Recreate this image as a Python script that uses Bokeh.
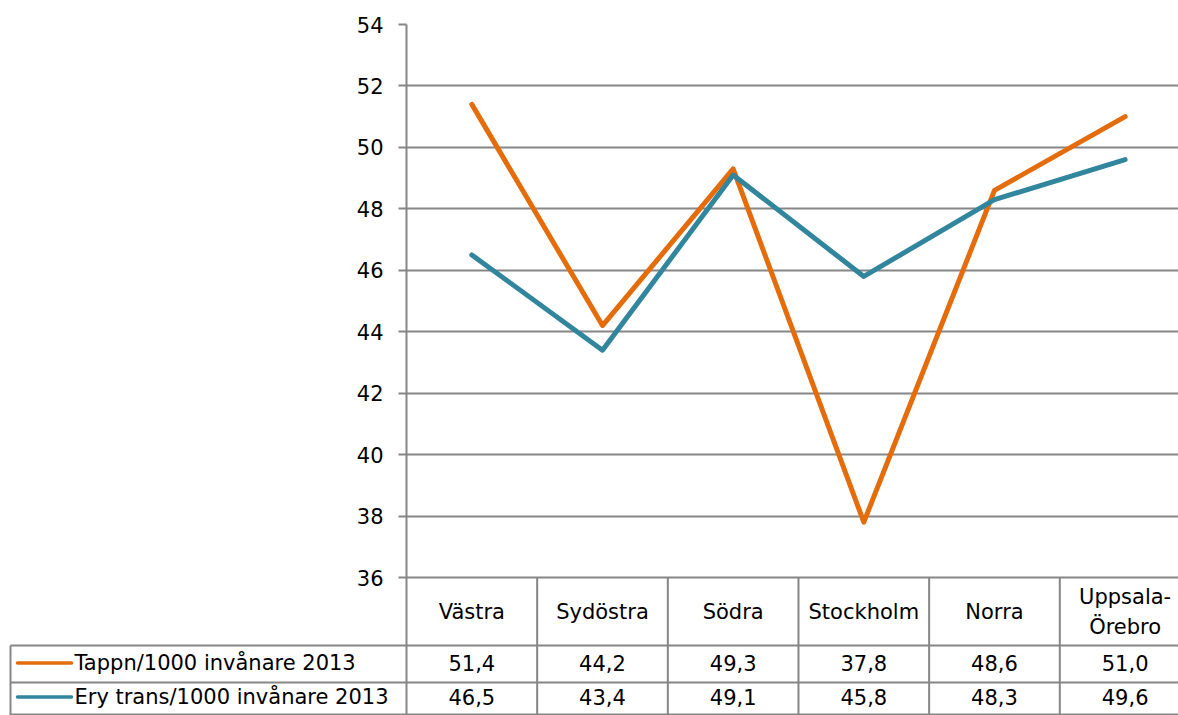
from bokeh.plotting import figure
from bokeh.models import Range1d, FixedTicker
from bokeh.core.properties import value
from bokeh.embed import file_html
from bokeh.resources import INLINE

# Regions and the two series (per 1000 inhabitants, 2013)
regions = ["Västra", "Sydöstra", "Södra", "Stockholm", "Norra", "Uppsala-Örebro"]
tappn = [51.4, 44.2, 49.3, 37.8, 48.6, 51.0]
ery = [46.5, 43.4, 49.1, 45.8, 48.3, 49.6]
series_names = ["Tappn/1000 invånare 2013", "Ery trans/1000 invånare 2013"]
y_ticks = [36, 38, 40, 42, 44, 46, 48, 50, 52, 54]

ORANGE = "#E46C0A"
TEAL = "#31859C"
GRID = "#868686"
FONT = "DejaVu Sans"
FS = "21px"

W, H = 1178, 715
LEFT, TOP, BOTTOM = 406, 24, 138
COL_W = 130.66  # pixel width of one category column

frame_w = W - LEFT
x_end = frame_w / COL_W

p = figure(width=W, height=H, output_backend="svg", toolbar_location=None,
           x_range=Range1d(0, x_end), y_range=Range1d(y_ticks[0], y_ticks[-1]),
           min_border_left=LEFT, min_border_top=TOP, min_border_bottom=BOTTOM,
           min_border_right=0)
p.outline_line_color = None
p.background_fill_color = "white"
p.border_fill_color = "white"

# table area below the plot, measured in pixels below the frame bottom
frame_h = H - TOP - BOTTOM
p.extra_y_ranges = {"tbl": Range1d(0, frame_h)}

p.xaxis.visible = False
p.xgrid.visible = False
p.ygrid.ticker = FixedTicker(ticks=y_ticks)
p.ygrid.grid_line_color = GRID
p.ygrid.grid_line_width = 2

ax = p.yaxis[0]
ax.ticker = FixedTicker(ticks=y_ticks)
ax.axis_line_color = GRID
ax.axis_line_width = 2
ax.major_tick_line_color = GRID
ax.major_tick_line_width = 2
ax.major_tick_out = 8
ax.major_tick_in = 0
ax.minor_tick_out = 0
ax.minor_tick_in = 0
ax.major_label_text_font = FONT
ax.major_label_text_font_size = FS
ax.major_label_text_color = "black"
ax.major_label_standoff = 15

xs = [i + 0.5 for i in range(len(regions))]

# series lines
p.line(xs, tappn, line_color=ORANGE, line_width=5, line_join="round", line_cap="round")
p.line(xs, ery, line_color=TEAL, line_width=5, line_join="round", line_cap="round")

# data table grid
HEAD_H, ROW_H = 68, 37
y_head = -HEAD_H
y_r1 = -HEAD_H - ROW_H
y_r2 = -BOTTOM
leg_left = (10 - LEFT) / COL_W

hx0 = [0, leg_left, leg_left, leg_left]
hx1 = [x_end, x_end, x_end, x_end]
hy = [0, y_head, y_r1, y_r2 + 1]
p.segment(x0=hx0, y0=hy, x1=hx1, y1=hy, y_range_name="tbl",
          line_color=GRID, line_width=2, level="overlay")

vx = list(range(len(regions))) + [leg_left]
vy0 = [0] * len(regions) + [y_head]
vy1 = [y_r2] * (len(regions) + 1)
p.segment(x0=vx, y0=vy0, x1=vx, y1=vy1, y_range_name="tbl",
          line_color=GRID, line_width=2, level="overlay")

# header row: category names
labels = [r.replace("-", "-\n") for r in regions]
p.text(x=xs, y=[y_head / 2] * len(regions), text=labels, y_range_name="tbl",
       text_align="center", text_baseline="middle", text_font=value(FONT),
       text_font_size=FS, text_color="black", text_line_height=1.25, level="overlay")

# value rows
r1c = (y_head + y_r1) / 2 + 1
r2c = (y_r1 + y_r2) / 2 + 2
fmt = lambda v: f"{v:.1f}".replace(".", ",")
p.text(x=xs, y=[r1c] * len(xs), text=[fmt(v) for v in tappn], y_range_name="tbl",
       text_align="center", text_baseline="middle", text_font=value(FONT),
       text_font_size=FS, text_color="black", level="overlay")
p.text(x=xs, y=[r2c] * len(xs), text=[fmt(v) for v in ery], y_range_name="tbl",
       text_align="center", text_baseline="middle", text_font=value(FONT),
       text_font_size=FS, text_color="black", level="overlay")

# legend keys and series names in the first column
key_x0 = (17 - LEFT) / COL_W
key_x1 = (71 - LEFT) / COL_W
txt_x = (74 - LEFT) / COL_W
p.segment(x0=[key_x0, key_x0], y0=[r1c, r2c], x1=[key_x1, key_x1], y1=[r1c, r2c],
          y_range_name="tbl", line_color=[ORANGE, TEAL], line_width=3.5,
          line_cap="round", level="overlay")
p.text(x=[txt_x, txt_x], y=[r1c, r2c], text=series_names, y_range_name="tbl",
       text_align="left", text_baseline="middle", text_font=value(FONT),
       text_font_size=FS, text_color="black", level="overlay")

open("out.html", "w").write(file_html(p, INLINE))
